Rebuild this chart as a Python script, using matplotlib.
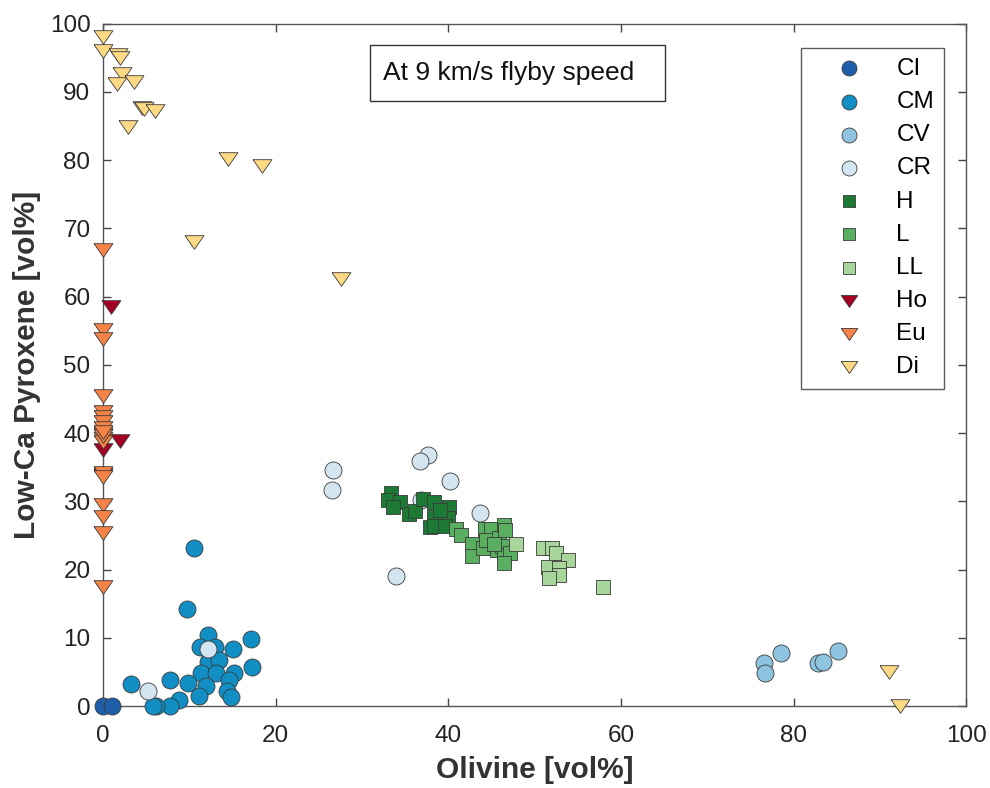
import matplotlib
matplotlib.use("Agg")
import matplotlib.pyplot as plt
from matplotlib.patches import Rectangle

plt.rcParams['font.family'] = ['Liberation Sans', 'DejaVu Sans']

# ---- data (Olivine vol%, Low-Ca Pyroxene vol%) ----
ci_x = [0.0, 1.0]
ci_y = [0.0, 0.0]

cm_x = [10.6, 9.7, 12.2, 11.2, 13.0, 17.1, 15.1, 12.2, 13.4, 11.4, 13.1, 15.2, 17.3,
        14.6, 11.9, 9.8, 7.8, 3.3, 11.1, 14.4, 14.8, 8.8, 7.8, 6.2, 5.8]
cm_y = [23.2, 14.2, 10.4, 8.7, 8.7, 9.8, 8.3, 6.5, 6.7, 4.9, 4.9, 4.9, 5.7,
        3.8, 2.9, 3.4, 3.8, 3.2, 1.4, 2.2, 1.3, 0.9, 0.0, 0.0, 0.0]

cv_x = [76.6, 76.7, 78.6, 82.8, 83.4, 85.1]
cv_y = [6.3, 4.8, 7.8, 6.3, 6.5, 8.1]

cr_x = [5.2, 12.2, 26.7, 26.5, 37.7, 36.7, 40.2, 43.7, 34.0, 36.8]
cr_y = [2.2, 8.4, 34.6, 31.6, 36.8, 35.9, 33.0, 28.3, 19.0, 30.2]

h_x = [33.4, 33.0, 34.4, 33.6, 35.4, 36.1, 37.1, 38.4, 40.1, 40.0, 38.4, 37.9, 38.4, 39.6, 39.0]
h_y = [31.2, 30.2, 29.9, 29.2, 28.1, 28.6, 30.3, 29.9, 29.1, 27.6, 27.7, 26.2, 26.4, 26.4, 28.7]

l_x = [40.9, 41.5, 42.8, 42.8, 44.0, 44.2, 44.9, 44.4, 45.6, 45.9, 46.4, 46.6, 46.2,
       46.4, 47.1, 46.4, 45.3]
l_y = [25.9, 25.1, 23.7, 22.0, 23.2, 25.9, 26.0, 24.3, 22.8, 24.6, 26.6, 25.8, 23.4,
       22.1, 22.4, 21.0, 23.7]

ll_x = [47.9, 51.0, 52.0, 52.5, 53.9, 51.6, 52.8, 52.8, 51.7, 57.9]
ll_y = [23.7, 23.2, 23.2, 22.4, 21.4, 20.4, 20.3, 19.2, 18.8, 17.4]

ho_x = [0.9, 2.0, 0.0, 0.0]
ho_y = [58.5, 38.9, 37.5, 33.8]

eu_x = [0.0] * 19
eu_y = [66.8, 55.1, 53.8, 45.5, 43.1, 42.4, 41.6, 40.7, 39.9, 39.2, 38.7,
        34.1, 33.6, 29.4, 27.7, 25.3, 17.5, 39.5, 40.2]

di_x = [0.0, 0.0, 1.8, 2.0, 2.2, 1.6, 3.6, 4.5, 4.7, 6.0, 2.9, 14.5, 18.4, 10.5, 27.6, 91.1, 92.3]
di_y = [98.0, 96.0, 95.4, 94.9, 92.6, 91.2, 91.5, 87.7, 87.5, 87.2, 84.8, 80.1, 79.2, 68.0, 62.6, 5.0, 0.0]

# flat downward triangle like MATLAB's 'v'
tri = [(-1.0, 0.72), (1.0, 0.72), (0.0, -0.72), (-1.0, 0.72)]

series = [
    ("CI", ci_x, ci_y, "o", "#1f5ea8", 150),
    ("CM", cm_x, cm_y, "o", "#118fc4", 150),
    ("CV", cv_x, cv_y, "o", "#8ec4e0", 150),
    ("CR", cr_x, cr_y, "o", "#d3e5f1", 150),
    ("H", h_x, h_y, "s", "#1c7a34", 100),
    ("L", l_x, l_y, "s", "#5aae5f", 100),
    ("LL", ll_x, ll_y, "s", "#a8d69a", 100),
    ("Ho", ho_x, ho_y, tri, "#a30023", 185),
    ("Eu", eu_x, eu_y, tri, "#f58347", 185),
    ("Di", di_x, di_y, tri, "#fdd984", 185),
]

fig = plt.figure(figsize=(9.9, 7.88), dpi=100)
ax = fig.add_axes([0.104, 0.104, 0.872, 0.866])

handles = {}
for name, xs, ys, mk, col, s in series:
    h = ax.scatter(xs, ys, marker=mk, s=s, c=col, edgecolors="#3a3a3a",
                   linewidths=0.6, label=name, clip_on=False, zorder=3)
    handles[name] = h

ax.set_xlim(0, 100)
ax.set_ylim(0, 100)
ax.set_xticks(range(0, 101, 20))
ax.set_yticks(range(0, 101, 10))
ax.tick_params(direction="in", length=6, width=1, colors="#444444",
               labelcolor="#222222", labelsize=17.5, top=True, right=True,
               labeltop=False, labelright=False)
ax.tick_params(axis="y", pad=9)
ax.tick_params(axis="x", pad=14)
for sp in ax.spines.values():
    sp.set_color("#555555")
    sp.set_linewidth(1)

ax.set_xlabel("Olivine [vol%]", fontsize=21.5, fontweight="bold", color="#333333", labelpad=6)
ax.set_ylabel("Low-Ca Pyroxene [vol%]", fontsize=21.5, fontweight="bold", color="#333333", labelpad=6)

# annotation box (MATLAB-style textbox)
ax.add_patch(Rectangle((30.9, 88.7), 34.2, 8.1, transform=ax.transData,
                       fc="white", ec="#333333", lw=1, zorder=4))
ax.text(32.4, 92.75, "At 9 km/s flyby speed", fontsize=19, ha="left", va="center",
        color="#111111", zorder=5)

leg = ax.legend([handles[n[0]] for n in series], [n[0] for n in series],
                loc="upper right", bbox_to_anchor=(0.9745, 0.965),
                fontsize=17.5, frameon=True, fancybox=False, edgecolor="#333333",
                labelspacing=0.46, handletextpad=0.4, borderpad=0.42,
                borderaxespad=0.0, handlelength=3.1, scatterpoints=1,
                markerscale=0.88)
leg.get_frame().set_linewidth(1)

fig.savefig("out.png", dpi=100)
